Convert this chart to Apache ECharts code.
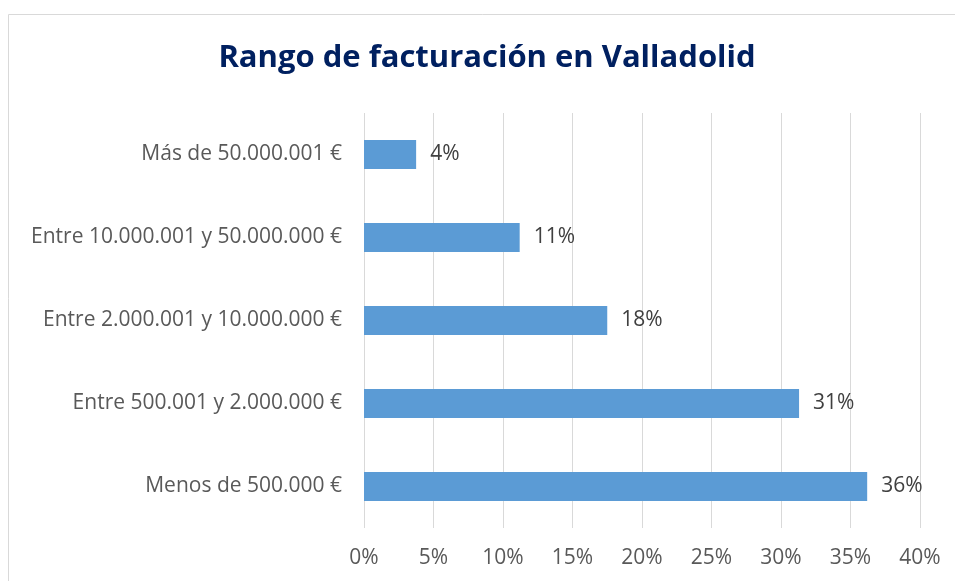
<!DOCTYPE html>
<html>
<head>
<meta charset="utf-8">
<script src="https://cdn.jsdelivr.net/npm/echarts@6/dist/echarts.min.js"></script>
<style>
  html, body { margin: 0; padding: 0; background: #fff; }
  #chart { width: 955px; height: 581px; }
</style>
</head>
<body>
<div id="chart"></div>
<script>
// categories, top to bottom
const categories = [
  'Más de 50.000.001 €',
  'Entre 10.000.001 y 50.000.000 €',
  'Entre 2.000.001 y 10.000.000 €',
  'Entre 500.001 y 2.000.000 €',
  'Menos de 500.000 €',
];
// share of companies (%)
const values = [3.75, 11.2, 17.5, 31.3, 36.2];

const chart = echarts.init(document.getElementById('chart'));

const font = '"Open Sans", "Noto Sans", sans-serif';

chart.setOption({
  animation: false,
  title: {
    text: 'Rango de facturación en Valladolid',
    left: 482,
    top: 38,
    textAlign: 'center',
    textStyle: {
      color: '#002060',
      fontSize: 31,
      fontWeight: 'bold',
      fontFamily: font,
    },
  },
  graphic: [
    {
      type: 'rect',
      shape: { x: 8.5, y: 14.5, width: 1000, height: 600 },
      style: { fill: 'none', stroke: '#d9d9d9', lineWidth: 1 },
      silent: true,
    },
  ],
  grid: {
    left: 364,
    right: 35,
    top: 113,
    bottom: 53,
  },
  xAxis: {
    type: 'value',
    min: 0,
    max: 40,
    interval: 5,
    axisLine: { show: false },
    axisTick: { show: false },
    axisLabel: {
      formatter: '{value}%',
      color: '#595959',
      fontSize: 21,
      fontFamily: font,
      margin: 20,
    },
    splitLine: {
      show: true,
      lineStyle: { color: '#d9d9d9', width: 1 },
    },
  },
  yAxis: {
    type: 'category',
    inverse: true,
    data: categories,
    axisLine: { show: false },
    axisTick: { show: false },
    axisLabel: {
      color: '#595959',
      fontSize: 21,
      fontFamily: font,
      margin: 22,
    },
  },
  series: [
    {
      type: 'bar',
      data: values,
      barWidth: 29,
      itemStyle: { color: '#5b9bd5' },
      label: {
        show: true,
        position: 'right',
        distance: 14,
        color: '#404040',
        fontSize: 21,
        fontFamily: font,
        formatter: function (p) {
          return Math.round(p.value) + '%';
        },
      },
    },
  ],
});
</script>
</body>
</html>
